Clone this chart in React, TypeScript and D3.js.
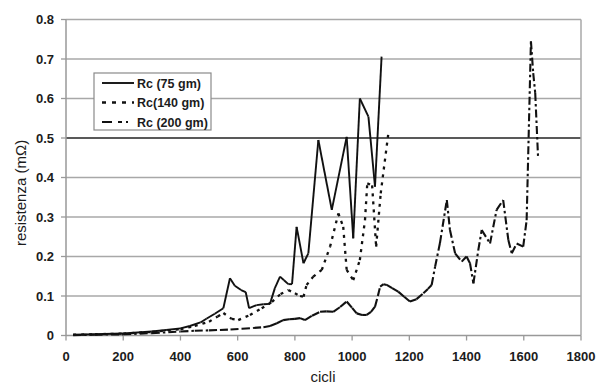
import React from "react";
import * as d3 from "d3";

// Contact resistance vs. cycles for three loads
const cycles75 = [25, 100, 200, 300, 350, 400, 433, 470, 492, 520, 550, 573, 590, 612, 628, 640, 666, 690, 713, 730, 748, 762, 777, 790, 806, 830, 847, 882, 929, 981, 1004, 1027, 1057, 1080, 1103];
const res75 = [0.002, 0.003, 0.005, 0.010, 0.014, 0.018, 0.024, 0.033, 0.043, 0.055, 0.069, 0.145, 0.126, 0.115, 0.11, 0.069, 0.077, 0.079, 0.08, 0.12, 0.149, 0.14, 0.13, 0.13, 0.275, 0.183, 0.208, 0.495, 0.318, 0.503, 0.246, 0.6, 0.554, 0.377, 0.706];

const cycles140 = [25, 100, 200, 300, 400, 450, 500, 530, 550, 579, 602, 643, 684, 720, 750, 777, 800, 818, 830, 841, 864, 894, 923, 952, 969, 981, 1004, 1027, 1045, 1053, 1070, 1084, 1100, 1126];
const res140 = [0.002, 0.003, 0.005, 0.009, 0.016, 0.024, 0.035, 0.048, 0.057, 0.042, 0.039, 0.052, 0.069, 0.085, 0.105, 0.115, 0.107, 0.10, 0.098, 0.128, 0.149, 0.166, 0.225, 0.309, 0.275, 0.166, 0.14, 0.191, 0.292, 0.385, 0.38, 0.225, 0.36, 0.508];

const cycles200 = [25, 100, 200, 300, 400, 450, 500, 538, 575, 615, 654, 690, 713, 737, 759, 780, 800, 818, 835, 860, 888, 910, 934, 958, 981, 1000, 1016, 1035, 1051, 1066, 1080, 1090, 1098, 1110, 1121, 1140, 1161, 1182, 1202, 1225, 1249, 1265, 1278, 1290, 1307, 1331, 1342, 1360, 1383, 1400, 1412, 1424, 1441, 1453, 1482, 1505, 1528, 1546, 1558, 1575, 1598, 1610, 1625, 1633, 1640, 1650];
const res200 = [0.001, 0.002, 0.003, 0.006, 0.010, 0.012, 0.013, 0.014, 0.015, 0.017, 0.019, 0.021, 0.024, 0.031, 0.039, 0.041, 0.042, 0.044, 0.039, 0.05, 0.06, 0.061, 0.06, 0.072, 0.086, 0.07, 0.056, 0.052, 0.052, 0.06, 0.073, 0.10, 0.124, 0.13, 0.128, 0.12, 0.111, 0.098, 0.086, 0.092, 0.107, 0.118, 0.128, 0.174, 0.234, 0.343, 0.267, 0.208, 0.187, 0.2, 0.183, 0.132, 0.216, 0.267, 0.233, 0.318, 0.343, 0.242, 0.208, 0.233, 0.225, 0.292, 0.745, 0.664, 0.614, 0.45];

const xTicks = [0, 200, 400, 600, 800, 1000, 1200, 1400, 1600, 1800];
const yTicks = [0, 0.1, 0.2, 0.3, 0.4, 0.5, 0.6, 0.7, 0.8];
const seriesNames = ["Rc (75 gm)", "Rc(140 gm)", "Rc (200 gm)"];

const W = 599;
const H = 385;
const x = d3.scaleLinear().domain([0, 1800]).range([66, 581]);
const y = d3.scaleLinear().domain([0, 0.8]).range([335.5, 19.5]);
const line = d3.line<[number, number]>().x((d) => x(d[0])).y((d) => y(d[1]));

// each segment is its own path so the dash pattern restarts per segment
function segments(xs: number[], ys: number[]) {
  return xs.slice(1).map((c, i) => line([[xs[i], ys[i]], [c, ys[i + 1]]]) as string);
}

const styles = [
  { dash: undefined as string | undefined, width: 1.9, legendDash: undefined as string | undefined },
  { dash: "3,5", width: 2.3, legendDash: "4,6" },
  { dash: "8,3,2.5,3", width: 2.1, legendDash: "10,6,4,4,2,20" },
];

export default function App() {
  const data = [
    segments(cycles75, res75),
    segments(cycles140, res140),
    segments(cycles200, res200),
  ];
  const font = "'Liberation Sans', Arial, sans-serif";
  const ink = "#1c1c1c";
  return (
    <svg width={W} height={H} style={{ position: "absolute", left: 0, top: 0, background: "#fff" }}>
      <rect x={0} y={0} width={W} height={H} fill="#fff" />
      {/* grid */}
      {yTicks.slice(1).map((t) => (
        <line key={t} x1={x(0)} x2={x(1800)} y1={y(t)} y2={y(t)}
          stroke={t === 0.5 ? "#222" : "#a8a8a8"} strokeWidth={t === 0.5 ? 1.7 : 1.6} />
      ))}
      {/* frame and axes */}
      <line x1={x(1800)} x2={x(1800)} y1={y(0.8)} y2={y(0)} stroke="#a8a8a8" strokeWidth={1.5} />
      <line x1={x(0)} x2={x(0)} y1={y(0.8)} y2={y(0)} stroke="#999" strokeWidth={1.5} />
      <line x1={x(0)} x2={x(1800)} y1={y(0)} y2={y(0)} stroke="#999" strokeWidth={1.5} />
      {xTicks.map((t) => (
        <g key={t}>
          <line x1={x(t)} x2={x(t)} y1={y(0)} y2={y(0) + 5} stroke="#999" strokeWidth={1.3} />
          <text x={x(t)} y={361} textAnchor="middle" fontFamily={font} fontSize={13} fontWeight="bold" fill={ink}>{t}</text>
        </g>
      ))}
      {yTicks.map((t) => (
        <g key={t}>
          <line x1={x(0) - 5} x2={x(0)} y1={y(t)} y2={y(t)} stroke="#999" strokeWidth={1.3} />
          <text x={54} y={y(t) + 4.7} textAnchor="end" fontFamily={font} fontSize={13} fontWeight="bold" fill={ink}>
            {t === 0 ? "0" : t.toFixed(1)}
          </text>
        </g>
      ))}
      {/* series */}
      {data.map((segs, si) => (
        <g key={si} fill="none" stroke="#111" strokeWidth={styles[si].width} strokeDasharray={styles[si].dash}>
          {segs.map((d, i) => (
            <path key={i} d={d} strokeLinejoin="round" />
          ))}
        </g>
      ))}
      {/* axis titles */}
      <text transform="translate(26,193) rotate(-90)" textAnchor="middle" fontFamily={font} fontSize={15} fill={ink}>
        resistenza (mΩ)
      </text>
      <text x={323} y={382} textAnchor="middle" fontFamily={font} fontSize={15} fill={ink}>cicli</text>
      {/* legend */}
      <rect x={94} y={73} width={117} height={57} fill="#fff" stroke="#8a8a8a" strokeWidth={1.2} />
      {seriesNames.map((name, i) => (
        <g key={name}>
          <line x1={102} x2={134} y1={83 + i * 19.5} y2={83 + i * 19.5} stroke="#111"
            strokeWidth={styles[i].width} strokeDasharray={styles[i].legendDash} />
          <text x={137} y={87.5 + i * 19.5} fontFamily={font} fontSize={12.5} fontWeight="bold" fill={ink}>{name}</text>
        </g>
      ))}
    </svg>
  );
}
